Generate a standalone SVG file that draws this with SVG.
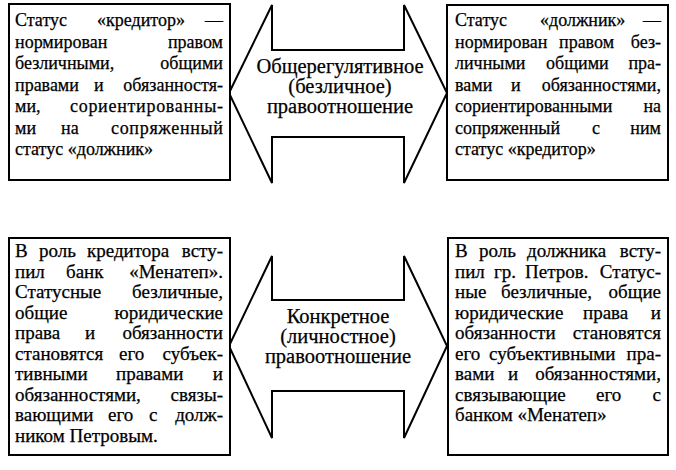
<svg xmlns="http://www.w3.org/2000/svg" width="676" height="470" viewBox="0 0 676 470">
<style>
.box{fill:#fff;stroke:#000;stroke-width:2}
.arr{fill:#fff;stroke:#000;stroke-width:2;stroke-linejoin:miter}
text{font-family:"Liberation Serif","Times New Roman",serif;font-size:18px;fill:#000;stroke:#000;stroke-width:0.25}
.b text{font-size:19px}
.e{text-anchor:end}
.c{text-anchor:middle;font-size:20.5px}
</style>
<rect width="676" height="470" fill="#fff"/>
<g id="connectors">
<polygon class="arr" points="229,93 272,5 272,50 404,50 404,5 447,93 404,183 404,137 272,137 272,183"/>
<polygon class="arr" points="229,346 272,256 272,300 404,300 404,256 447,346 404,438 404,391 272,391 272,438"/>
</g>
<g id="label-general">
<text class="c" x="340" y="73">Общерегулятивное</text>
<text class="c" x="340" y="93">(безличное)</text>
<text class="c" x="340" y="113">правоотношение</text>
</g>
<g id="label-concrete">
<text class="c" x="338" y="323">Конкретное</text>
<text class="c" x="338" y="343">(личностное)</text>
<text class="c" x="338" y="363">правоотношение</text>
</g>
<g id="node-creditor-status">
<rect class="box" x="9" y="4" width="221" height="176"/>
<text x="15" y="26">Статус</text><text x="97" y="26">«кредитор»</text><text class="e" x="223" y="26">—</text>
<text x="15" y="48">нормирован</text><text class="e" x="223" y="48">правом</text>
<text x="15" y="69">безличными,</text><text class="e" x="223" y="69">общими</text>
<text x="15" y="91">правами</text><text x="94" y="91">и</text><text class="e" x="223" y="91">обязанностя-</text>
<text x="15" y="112">ми,</text><text class="e" x="223" y="112" textLength="153" lengthAdjust="spacing">сориентированны-</text>
<text x="15" y="134">ми</text><text x="61" y="134">на</text><text class="e" x="223" y="134" textLength="112" lengthAdjust="spacing">сопряженный</text>
<text x="15" y="155">статус «должник»</text>
</g>
<g id="node-debtor-status">
<rect class="box" x="447" y="5" width="221" height="175"/>
<text x="455" y="26">Статус</text><text x="540" y="26">«должник»</text><text class="e" x="661" y="26">—</text>
<text x="455" y="48">нормирован</text><text x="559" y="48">правом</text><text class="e" x="661" y="48">без-</text>
<text x="455" y="69">личными</text><text x="546" y="69">общими</text><text class="e" x="661" y="69">пра-</text>
<text x="455" y="91">вами</text><text x="511" y="91">и</text><text class="e" x="661" y="91">обязанностями,</text>
<text x="455" y="112">сориентированными</text><text class="e" x="661" y="112">на</text>
<text x="455" y="134">сопряженный</text><text x="592" y="134">с</text><text class="e" x="661" y="134">ним</text>
<text x="455" y="155">статус «кредитор»</text>
</g>
<g id="node-creditor-bank" class="b">
<rect class="box" x="9" y="238" width="221" height="217"/>
<text x="15" y="257">В</text><text x="39" y="257">роль</text><text x="87" y="257">кредитора</text><text class="e" x="223" y="257">всту-</text>
<text x="15" y="277.5">пил</text><text x="66" y="277.5">банк</text><text class="e" x="223" y="277.5">«Менатеп».</text>
<text x="15" y="298">Статусные</text><text class="e" x="223" y="298">безличные,</text>
<text x="15" y="318.5">общие</text><text class="e" x="223" y="318.5">юридические</text>
<text x="15" y="339">права</text><text x="85" y="339">и</text><text class="e" x="223" y="339">обязанности</text>
<text x="15" y="359.5">становятся</text><text x="119" y="359.5">его</text><text class="e" x="223" y="359.5">субъек-</text>
<text x="15" y="380">тивными</text><text x="116" y="380">правами</text><text class="e" x="223" y="380">и</text>
<text x="15" y="400.5">обязанностями,</text><text class="e" x="223" y="400.5">связы-</text>
<text x="15" y="421">вающими</text><text x="108" y="421">его</text><text x="149" y="421">с</text><text class="e" x="223" y="421">долж-</text>
<text x="15" y="441.5">ником Петровым.</text>
</g>
<g id="node-debtor-person" class="b">
<rect class="box" x="448" y="238" width="220" height="217"/>
<text x="455" y="257">В</text><text x="479" y="257">роль</text><text x="527" y="257">должника</text><text class="e" x="661" y="257">всту-</text>
<text x="455" y="277.5">пил</text><text x="494" y="277.5">гр.</text><text x="525" y="277.5">Петров.</text><text class="e" x="661" y="277.5">Статус-</text>
<text x="455" y="298">ные</text><text x="501" y="298">безличные,</text><text class="e" x="661" y="298">общие</text>
<text x="455" y="318.5">юридические</text><text x="583" y="318.5">права</text><text class="e" x="661" y="318.5">и</text>
<text x="455" y="339">обязанности</text><text class="e" x="661" y="339">становятся</text>
<text x="455" y="359.5">его</text><text x="489" y="359.5">субъективными</text><text class="e" x="661" y="359.5">пра-</text>
<text x="455" y="380">вами</text><text x="508" y="380">и</text><text class="e" x="661" y="380">обязанностями,</text>
<text x="455" y="400.5">связывающие</text><text x="596" y="400.5">его</text><text class="e" x="661" y="400.5">с</text>
<text x="455" y="421">банком «Менатеп»</text>
</g>
</svg>
